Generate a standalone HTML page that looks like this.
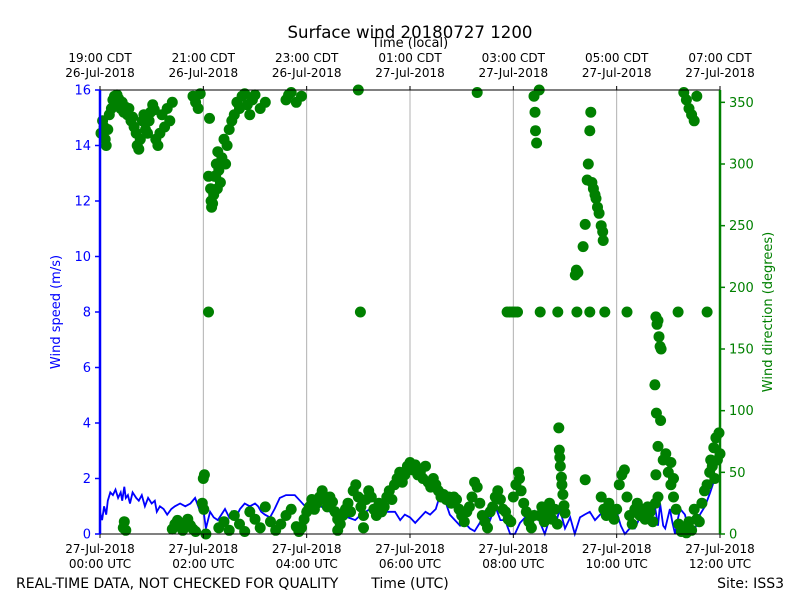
<!DOCTYPE html>
<html><head><meta charset="utf-8"><style>
body{margin:0;background:#fff;font-family:"Liberation Sans","DejaVu Sans",sans-serif}
svg text{font-family:"DejaVu Sans","Liberation Sans",sans-serif}
</style></head><body>
<svg id="c" width="800" height="600" xmlns="http://www.w3.org/2000/svg">
<rect width="800" height="600" fill="#fff"/>
<text x="410" y="38" font-size="16.6" text-anchor="middle">Surface wind 20180727 1200</text>
<text x="410" y="47" font-size="13" text-anchor="middle">Time (local)</text>
<g id="grid"></g>
<g id="speed"></g>
<g id="dir"></g>
<g id="axes"></g>
<text x="60" y="312" font-size="13" fill="#0000ff" text-anchor="middle" transform="rotate(-90 60 312)">Wind speed (m/s)</text>
<text x="772" y="312" font-size="13" fill="#008000" text-anchor="middle" transform="rotate(-90 772 312)">Wind direction (degrees)</text>
<text x="16" y="588" font-size="14">REAL-TIME DATA, NOT CHECKED FOR QUALITY</text>
<text x="410" y="588" font-size="14" text-anchor="middle">Time (UTC)</text>
<text x="784" y="588" font-size="14" text-anchor="end">Site: ISS3</text>
</svg>
<script>
const xTickHours=[0,2,4,6,8,10,12];
const xTickUTC=["00:00 UTC","02:00 UTC","04:00 UTC","06:00 UTC","08:00 UTC","10:00 UTC","12:00 UTC"];
const xTickDate=["27-Jul-2018","27-Jul-2018","27-Jul-2018","27-Jul-2018","27-Jul-2018","27-Jul-2018","27-Jul-2018"];
const topTickLocal=["19:00 CDT","21:00 CDT","23:00 CDT","01:00 CDT","03:00 CDT","05:00 CDT","07:00 CDT"];
const topTickDate=["26-Jul-2018","26-Jul-2018","26-Jul-2018","27-Jul-2018","27-Jul-2018","27-Jul-2018","27-Jul-2018"];
const speedTicks=[0,2,4,6,8,10,12,14,16];
const dirTicks=[0,50,100,150,200,250,300,350];
const speedTimes=[0,.04,.08,.12,.15,.2,.25,.3,.35,.4,.43,.47,.5,.54,.58,.63,.7,.75,.81,.87,.93,1.0,1.06,1.1,1.16,1.23,1.3,1.38,1.45,1.55,1.65,1.75,1.84,1.9,1.94,2.0,2.05,2.13,2.2,2.28,2.35,2.42,2.5,2.55,2.63,2.71,2.8,2.9,3.0,3.06,3.12,3.19,3.29,3.38,3.48,3.6,3.77,3.87,3.97,4.1,4.26,4.4,4.5,4.64,4.8,4.94,5.05,5.23,5.32,5.42,5.55,5.71,5.81,5.9,6.0,6.1,6.2,6.3,6.39,6.5,6.58,6.68,6.77,6.87,6.97,7.06,7.16,7.25,7.35,7.45,7.55,7.65,7.75,7.84,7.94,8.03,8.13,8.23,8.32,8.42,8.52,8.61,8.71,8.81,8.9,9.0,9.1,9.19,9.29,9.38,9.48,9.58,9.68,9.78,9.87,10.0,10.08,10.16,10.25,10.35,10.45,10.55,10.65,10.74,10.8,10.84,10.9,10.94,11.03,11.08,11.13,11.18,11.23,11.32,11.42,11.52,11.61,11.71,11.81,11.9,11.96,12.0];
const speedValues=[0.8,0.5,1.0,0.7,1.2,1.5,1.4,1.6,1.3,1.5,1.2,1.7,1.3,1.4,1.1,1.5,1.3,1.2,1.4,1.0,1.3,1.1,1.2,0.8,1.0,0.9,0.7,0.9,1.0,1.1,1.0,1.1,1.3,1.0,0.8,0.9,0.2,0.8,0.6,0.5,0.7,0.9,0.6,0.8,0.6,0.9,1.1,1.0,1.1,1.0,0.8,0.7,0.6,0.9,1.3,1.4,1.4,1.2,1.0,0.9,1.0,0.9,0.7,0.8,0.6,0.5,0.7,0.9,0.6,0.6,0.8,0.8,0.5,0.7,0.6,0.4,0.6,0.8,0.7,0.9,1.4,1.2,0.7,0.5,0.3,0.4,0.2,0.1,0.4,0.8,0.5,1.0,0.5,0.5,0.0,0.0,0.4,0.6,0.2,0.8,0.4,0.0,0.6,0.3,0.9,0.2,0.6,0.0,0.6,0.7,0.8,0.5,0.7,0.8,0.9,0.8,0.3,0.0,0.2,0.2,0.6,0.5,0.5,1.0,0.3,1.1,0.3,0.2,0.9,0.4,0.0,0.5,0.9,0.7,0.0,0.2,0.7,1.0,1.5,2.0];
const dirTimes=[.02,.05,.08,.1,.12,.15,.18,.22,.25,.28,.3,.33,.36,.4,.43,.46,.5,.53,.56,.6,.63,.66,.7,.72,.75,.78,.82,.85,.88,.92,.95,.98,1.02,1.05,1.08,1.12,1.16,1.2,1.25,1.3,1.35,1.4,1.8,1.85,1.9,1.94,
.45,.47,.5,1.4,1.45,1.5,1.55,1.6,1.65,1.7,1.75,1.8,1.85,
1.98,2.0,2.01,2.02,2.05,2.1,2.12,2.14,2.15,2.16,2.18,2.2,2.1,
2.22,2.25,2.28,2.3,2.33,2.36,2.4,2.43,2.46,2.5,2.24,2.27,
2.55,2.6,2.65,2.7,2.75,2.8,2.85,2.9,2.95,3.0,3.1,3.2,3.6,3.65,3.7,3.8,3.9,5.04,5.0,
2.3,2.4,2.5,2.6,2.7,2.8,2.9,3.0,3.1,3.2,3.3,3.4,3.5,3.6,3.7,3.8,3.85,
3.9,3.95,4.0,4.05,4.1,4.15,4.2,4.25,4.3,4.35,4.4,4.45,4.5,4.55,4.6,4.65,4.7,4.75,4.8,4.85,4.9,4.95,5.0,5.05,5.1,5.15,5.2,5.25,5.3,5.35,5.4,5.45,5.5,5.55,5.6,5.65,5.7,5.75,5.8,5.85,5.9,5.95,6.0,4.6,5.1,
6.05,6.1,6.15,6.2,6.25,6.3,6.35,6.4,6.45,6.5,6.55,6.6,6.65,6.7,6.75,6.8,6.85,6.9,6.95,7.0,7.05,7.1,7.15,7.2,7.25,7.3,7.35,7.4,7.45,7.5,7.55,7.6,7.65,7.7,7.75,7.8,7.85,7.9,7.95,7.3,
7.88,7.93,7.98,8.03,8.08,
8.0,8.05,8.1,8.12,8.15,8.2,8.25,8.3,8.35,8.4,8.4,8.42,8.43,8.45,8.5,
8.5,8.55,8.6,8.65,8.7,8.75,8.8,8.85,8.88,8.89,8.9,8.91,8.93,8.94,8.96,8.98,9.0,9.39,
9.2,9.22,9.25,9.35,9.39,9.43,9.45,9.48,9.5,9.52,9.55,9.58,9.6,9.63,9.66,9.7,9.73,9.74,
8.52,8.86,9.23,9.48,9.77,10.2,11.19,11.75,
9.7,9.75,9.8,9.85,9.9,9.95,10.0,10.05,10.1,10.15,10.2,10.25,10.3,10.35,10.4,10.45,10.5,10.55,10.6,10.65,10.7,10.75,10.8,
10.76,10.78,10.8,10.82,10.84,10.86,10.74,10.77,10.85,10.8,10.76,10.9,10.95,
11.0,11.05,11.1,11.15,11.2,11.25,11.3,11.35,11.4,11.45,11.05,11.1,11.5,11.55,
11.3,11.35,11.4,11.45,11.5,11.55,
11.6,11.65,11.7,11.75,11.8,11.85,11.9,11.95,12.0,11.82,11.88,11.92,11.98];
const dirValues=[325,335,330,320,315,328,340,345,352,355,350,356,353,345,350,342,346,340,345,335,338,330,325,315,312,320,335,340,328,325,335,342,348,344,320,315,325,340,330,345,335,350,355,350,345,357,
5,10,3,4,8,11,6,3,9,12,7,4,2,
25,45,20,48,0,180,337,280,270,265,268,275,290,
290,300,310,295,285,305,320,300,315,328,290,280,
335,340,350,345,355,357,348,340,352,356,345,350,352,356,358,350,355,180,360,
5,10,3,15,8,2,18,12,5,22,10,3,8,15,20,6,2,
5,12,18,22,28,20,25,30,35,28,22,30,26,18,12,8,15,20,25,18,35,40,30,22,15,28,35,30,20,15,25,18,22,30,35,28,40,45,50,42,48,55,58,3,5,
52,56,48,50,45,55,42,38,45,40,35,30,32,28,30,25,30,28,20,15,10,18,22,30,42,38,25,15,10,5,18,22,30,35,28,20,18,12,10,358,
180,180,180,180,180,
30,40,50,45,35,25,18,10,5,15,355,342,327,317,360,
15,22,10,18,25,12,20,8,86,68,62,55,46,40,32,23,17,44,
210,214,212,233,251,287,300,327,342,285,280,275,272,265,260,250,245,238,
180,180,180,180,180,180,180,180,
30,20,15,25,18,12,20,40,48,52,30,15,8,20,25,15,20,12,22,18,10,25,30,
176,170,173,160,152,150,121,98,92,71,48,60,65,
50,40,30,20,8,2,5,1,10,3,58,45,20,12,
358,352,345,340,335,355,
10,25,35,40,50,55,45,60,65,60,70,78,82];

const NS="http://www.w3.org/2000/svg";
const X0=100,X1=720,Y0=534,Y1=90;
const xs=h=>X0+(X1-X0)*h/12;
const ys=v=>Y0-(Y0-Y1)*v/16;
const yd=d=>Y0-(Y0-Y1)*d/360;
function mk(tag,attrs,parent){const e=document.createElementNS(NS,tag);for(const k in attrs)e.setAttribute(k,attrs[k]);parent.appendChild(e);return e;}
const grid=document.getElementById('grid'),axes=document.getElementById('axes');
xTickHours.forEach((h,i)=>{
  const x=xs(h);
  if(i>0&&i<xTickHours.length-1){const g=mk('line',{x1:x,x2:x,y1:Y1,y2:Y0,stroke:'#b0b0b0','stroke-width':1},grid);
  
  }
  mk('line',{x1:x,x2:x,y1:Y0,y2:Y0+4,stroke:'#000'},axes);
  mk('line',{x1:x,x2:x,y1:Y1,y2:Y1-4,stroke:'#000'},axes);
  const t1=mk('text',{x:x,y:553,'font-size':12,'text-anchor':'middle'},axes);t1.textContent=xTickDate[i];
  
  
  const t2=mk('text',{x:x,y:568,'font-size':12,'text-anchor':'middle'},axes);t2.textContent=xTickUTC[i];
  
  
  const t3=mk('text',{x:x,y:62,'font-size':12,'text-anchor':'middle'},axes);t3.textContent=topTickLocal[i];
  
  
  const t4=mk('text',{x:x,y:77,'font-size':12,'text-anchor':'middle'},axes);t4.textContent=topTickDate[i];
  
  
});
speedTicks.forEach(v=>{const y=ys(v);
  mk('line',{x1:X0-5,x2:X0,y1:y,y2:y,stroke:'#0000ff','stroke-width':1.5},axes);
  const t=mk('text',{x:X0-9,y:y+4.5,'font-size':13,'text-anchor':'end',fill:'#0000ff'},axes);t.textContent=v;
  
  });
dirTicks.forEach(v=>{const y=yd(v);
  mk('line',{x1:X1,x2:X1+5,y1:y,y2:y,stroke:'#008000','stroke-width':1.5},axes);
  const t=mk('text',{x:X1+9,y:y+4.5,'font-size':13,fill:'#008000'},axes);t.textContent=v;
  
  });
mk('line',{x1:X0,x2:X1,y1:Y1,y2:Y1,stroke:'#000'},axes);
mk('line',{x1:X0,x2:X1,y1:Y0,y2:Y0,stroke:'#000'},axes);
mk('line',{x1:X0,x2:X0,y1:Y1,y2:Y0,stroke:'#0000ff','stroke-width':2.5},axes);
mk('line',{x1:X1,x2:X1,y1:Y1,y2:Y0,stroke:'#008000','stroke-width':2.5},axes);
const sp=document.getElementById('speed');
const pl=mk('polyline',{points:speedTimes.map((t,i)=>xs(t).toFixed(1)+','+ys(speedValues[i]).toFixed(1)).join(' '),fill:'none',stroke:'#0000ff','stroke-width':1.8},sp);


const dg=document.getElementById('dir');
dirTimes.forEach((t,i)=>{const c=mk('circle',{cx:xs(t).toFixed(1),cy:yd(dirValues[i]).toFixed(1),r:5.5,fill:'#008000'},dg);
  
  });
</script>
</body></html>
